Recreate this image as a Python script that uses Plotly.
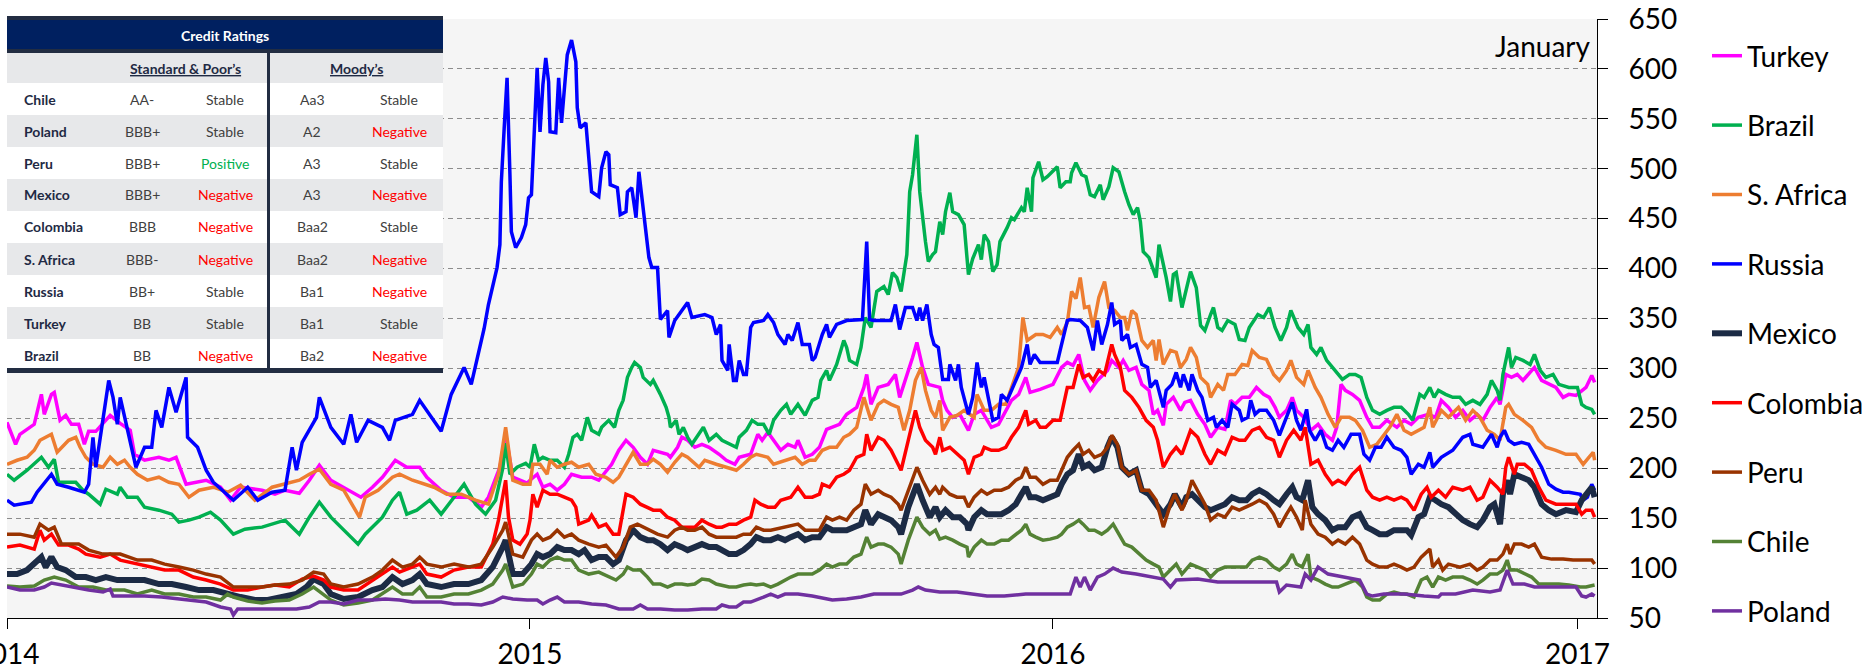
import plotly.graph_objects as go
import pandas as pd

START = "2014-01-01"   # day 0 of every series below (days since this date, value in bp)

TURKEY = [(0,246),(6,224),(9,234),(19,244),(24,274),(26,254),(31,274),(33,276),(37,248),(41,253),(45,244),(50,244),(54,224),(57,237),(62,237),(72,253),(79,245),(86,238),(89,214),(96,208),(106,211),(113,208),(118,211),(125,184),(139,188),(149,181),(156,168),(163,181),(178,178),(187,174),(194,178),(204,175),(211,188),(218,203),(226,188),(235,181),(247,171),(255,181),(262,191),(271,208),(279,201),(288,201),(293,191),(303,178),(312,171),(322,171),(331,161),(336,171),(344,201),(348,234),(353,191),(363,185),(365,188),(370,194),(374,181),(379,184),(384,178),(389,184),(394,194),(401,191),(408,191),(413,188),(420,201),(422,204),(427,218),(432,228),(437,221),(442,211),(447,204),(451,218),(461,214),(463,211),(468,221),(471,231),(475,228),(480,221),(485,224),(490,221),(497,214),(502,208),(508,204),(511,211),(519,214),(524,234),(527,228),(531,236),(535,228),(540,218),(545,224),(550,221),(552,228),(557,211),(562,214),(567,221),(572,239),(576,241),(581,244),(586,254),(593,261),(598,281),(600,294),(603,264),(608,281),(615,284),(620,294),(623,271),(627,288),(632,311),(635,326),(639,301),(643,284),(651,281),(653,268),(656,258),(660,251),(665,254),(671,238),(675,254),(680,258),(687,241),(692,244),(701,268),(706,274),(711,291),(714,276),(721,279),(730,284),(736,301),(740,306),(744,303),(748,314),(752,288),(756,278),(761,288),(768,298),(771,308),(776,301),(779,308),(783,298),(788,301),(792,284),(797,278),(800,254),(803,258),(807,243),(809,264),(814,271),(819,258),(822,266),(826,268),(831,254),(836,244),(840,231),(845,241),(850,239),(854,268),(857,264),(862,271),(867,271),(872,281),(877,274),(881,271),(885,261),(888,251),(893,258),(897,271),(900,258),(905,251),(910,238),(915,244),(920,234),(925,228),(928,241),(931,284),(934,278),(939,274),(944,268),(949,251),(953,241),(958,241),(963,248),(970,241),(975,248),(980,244),(985,251),(992,254),(997,251),(1001,268),(1006,261),(1011,251),(1016,258),(1021,248),(1026,254),(1030,248),(1035,261),(1040,271),(1042,264),(1046,294),(1050,291),(1054,294),(1058,288),(1062,294),(1066,301),(1071,288),(1076,284),(1081,281),(1086,271),(1090,274),(1095,273),(1100,278),(1102,281),(1106,293),(1108,286)]

BRAZIL = [(0,194),(5,188),(14,198),(24,211),(29,201),(33,209),(36,186),(48,186),(53,178),(57,174),(65,164),(69,179),(77,174),(79,181),(84,171),(91,171),(96,161),(106,158),(115,154),(120,146),(127,148),(134,151),(142,156),(149,148),(158,134),(166,139),(178,141),(185,144),(194,148),(199,141),(204,134),(211,151),(218,166),(226,151),(233,141),(245,124),(250,134),(255,141),(262,151),(269,168),(274,176),(279,154),(286,158),(295,168),(303,154),(312,171),(319,184),(327,164),(334,154),(341,168),(346,200),(348,225),(351,194),(356,201),(362,205),(365,201),(368,224),(371,208),(374,211),(379,208),(384,208),(389,201),(392,214),(395,231),(398,234),(401,228),(405,251),(408,238),(413,234),(415,241),(420,248),(424,241),(427,258),(430,268),(433,291),(436,301),(438,306),(442,301),(444,291),(449,284),(451,288),(456,274),(460,261),(462,251),(463,241),(467,248),(469,234),(472,241),(475,231),(478,224),(483,234),(486,241),(490,228),(495,234),(499,228),(504,224),(509,221),(511,231),(516,238),(520,248),(524,244),(528,244),(532,234),(535,248),(540,258),(544,264),(547,254),(552,264),(557,253),(562,268),(566,271),(568,288),(572,298),(574,288),(579,304),(584,328),(586,321),(588,308),(593,304),(596,321),(599,351),(603,341),(607,377),(612,382),(615,374),(618,396),(621,391),(624,377),(628,414),(630,477),(632,494),(635,534),(637,477),(641,427),(643,407),(646,414),(648,417),(651,447),(653,434),(655,457),(658,476),(660,457),(664,454),(668,444),(671,394),(674,410),(678,424),(680,409),(682,434),(685,427),(688,397),(691,404),(693,427),(698,441),(701,451),(703,449),(708,461),(710,457),(712,481),(715,457),(716,491),(720,507),(723,489),(726,492),(733,502),(735,481),(739,487),(742,487),(743,496),(746,506),(750,494),(753,492),(756,474),(759,472),(763,484),(765,469),(769,482),(772,501),(776,497),(780,477),(783,464),(786,454),(789,461),(791,447),(793,417),(797,411),(802,391),(804,424),(809,391),(812,367),(814,394),(816,396),(820,361),(826,397),(830,381),(833,343),(836,338),(840,354),(842,361),(845,341),(848,338),(852,348),(857,344),(860,329),(864,328),(867,341),(870,348),(873,354),(877,351),(881,361),(885,341),(889,328),(893,341),(896,358),(901,341),(905,334),(908,344),(910,321),(914,314),(917,321),(921,308),(925,301),(929,294),(932,289),(937,294),(941,294),(945,291),(949,271),(953,258),(958,254),(963,258),(968,261),(973,261),(978,254),(981,248),(986,274),(989,271),(993,281),(996,271),(999,278),(1004,274),(1009,271),(1014,271),(1018,264),(1023,268),(1028,264),(1033,274),(1036,288),(1040,278),(1042,268),(1044,294),(1048,321),(1050,301),(1053,311),(1058,308),(1063,304),(1066,314),(1070,298),(1074,291),(1079,294),(1083,284),(1090,281),(1096,281),(1099,264),(1102,261),(1106,259),(1108,254)]

S_AFRICA = [(0,204),(7,208),(14,211),(19,218),(23,228),(31,234),(35,216),(38,221),(43,228),(48,231),(51,221),(55,211),(60,204),(67,201),(72,211),(77,204),(82,208),(86,201),(91,194),(98,188),(106,191),(113,186),(120,184),(127,171),(134,178),(144,181),(154,176),(163,183),(173,168),(185,181),(194,184),(204,188),(211,194),(218,199),(226,184),(235,178),(246,151),(250,171),(259,178),(269,191),(274,194),(283,188),(298,181),(307,174),(317,174),(327,168),(336,164),(343,194),(348,241),(353,188),(360,184),(365,184),(367,204),(372,204),(377,194),(379,208),(384,201),(389,204),(394,206),(399,201),(406,204),(411,194),(418,191),(423,186),(427,191),(432,204),(437,216),(442,204),(447,204),(451,209),(456,204),(461,196),(466,206),(471,214),(475,211),(483,201),(487,208),(495,204),(502,201),(509,198),(514,204),(519,211),(523,214),(531,211),(535,204),(543,208),(550,211),(555,204),(560,208),(564,208),(569,218),(574,221),(579,221),(584,231),(588,234),(593,241),(598,271),(603,248),(608,264),(612,268),(617,264),(622,261),(626,238),(630,258),(634,288),(638,301),(641,278),(645,258),(648,251),(651,268),(653,238),(658,251),(663,253),(668,258),(675,251),(677,274),(682,258),(687,258),(692,264),(697,264),(701,281),(706,301),(709,351),(712,328),(715,331),(718,334),(723,334),(728,331),(733,341),(736,334),(740,346),(743,377),(746,370),(749,391),(752,361),(755,362),(758,341),(762,371),(766,387),(769,361),(773,358),(777,351),(780,351),(782,338),(785,358),(788,354),(792,328),(796,321),(800,328),(802,308),(804,329),(807,304),(812,318),(816,316),(819,301),(823,309),(826,321),(830,311),(833,291),(838,284),(840,271),(845,284),(849,278),(852,294),(857,294),(862,304),(866,303),(869,318),(874,311),(879,309),(884,294),(888,288),(893,298),(896,308),(900,291),(905,284),(908,298),(913,281),(917,271),(922,254),(927,241),(931,251),(937,251),(941,248),(946,238),(951,221),(956,224),(961,234),(965,241),(970,254),(975,238),(980,234),(985,238),(989,241),(993,261),(995,241),(1001,258),(1006,251),(1013,261),(1018,248),(1023,258),(1028,251),(1033,238),(1038,234),(1042,228),(1046,261),(1048,264),(1052,254),(1058,248),(1064,241),(1069,228),(1074,221),(1081,218),(1088,214),(1095,214),(1100,204),(1104,211),(1107,216),(1108,208)]

RUSSIA = [(0,168),(5,163),(17,166),(21,176),(31,194),(35,184),(43,181),(54,176),(57,184),(60,231),(62,201),(65,231),(71,288),(74,271),(77,244),(79,271),(86,228),(90,201),(96,221),(101,221),(104,258),(108,241),(113,281),(118,256),(125,291),(126,231),(133,221),(139,198),(144,186),(158,168),(168,181),(175,168),(185,176),(194,178),(199,221),(202,198),(206,226),(216,251),(218,271),(226,241),(235,224),(240,254),(244,226),(252,248),(262,241),(267,228),(271,248),(283,254),(288,268),(298,248),(303,237),(310,274),(319,301),(324,284),(331,328),(333,340),(336,364),(342,401),(344,424),(345,487),(347,541),(349,591),(351,494),(352,437),(355,421),(359,431),(362,444),(364,471),(366,474),(368,537),(370,601),(372,537),(374,584),(376,611),(378,587),(379,537),(383,536),(385,591),(387,546),(391,614),(394,629),(397,607),(398,561),(400,541),(404,546),(408,477),(413,472),(415,501),(418,517),(420,514),(421,484),(426,481),(428,454),(432,457),(433,477),(436,481),(439,451),(441,497),(444,457),(448,411),(450,401),(454,401),(456,349),(461,358),(462,331),(466,348),(471,358),(475,366),(478,351),(487,354),(492,351),(495,334),(498,344),(499,308),(503,298),(504,324),(507,288),(509,288),(511,308),(514,294),(516,294),(519,341),(521,346),(528,348),(531,354),(535,346),(538,334),(543,324),(545,334),(548,328),(552,346),(555,324),(560,324),(562,308),(564,311),(569,334),(572,344),(574,331),(579,344),(586,348),(597,349),(600,427),(602,349),(605,348),(617,348),(620,364),(623,339),(627,361),(632,361),(635,348),(637,361),(639,348),(642,364),(645,334),(647,324),(650,321),(653,289),(657,289),(658,304),(662,288),(664,304),(666,281),(671,254),(674,271),(677,306),(680,281),(682,291),(685,268),(688,248),(692,251),(694,274),(698,268),(701,278),(706,294),(708,301),(712,324),(714,304),(717,314),(721,306),(725,306),(733,306),(735,318),(740,348),(742,349),(749,348),(754,341),(758,318),(761,348),(764,324),(768,344),(771,366),(773,344),(777,348),(778,328),(782,334),(784,321),(788,324),(792,304),(796,301),(798,281),(802,288),(807,261),(809,278),(813,284),(816,296),(819,281),(821,294),(825,278),(827,294),(831,278),(834,271),(838,248),(842,251),(844,241),(848,248),(852,241),(855,264),(860,258),(862,248),(866,251),(868,268),(871,254),(874,258),(879,258),(884,248),(888,233),(893,251),(897,266),(900,248),(903,238),(907,259),(909,238),(913,228),(917,238),(921,221),(925,218),(929,228),(933,221),(938,234),(944,234),(947,214),(951,208),(955,221),(959,221),(963,231),(968,221),(973,218),(977,211),(980,194),(985,204),(989,201),(993,216),(995,201),(1001,211),(1009,218),(1016,231),(1021,234),(1023,224),(1030,221),(1036,234),(1040,221),(1042,231),(1045,238),(1048,228),(1052,224),(1057,226),(1062,224),(1066,214),(1071,201),(1076,184),(1081,179),(1086,176),(1090,176),(1098,174),(1100,168),(1103,171),(1106,184),(1108,178)]

MEXICO = [(0,94),(7,94),(14,98),(21,108),(24,111),(27,101),(31,111),(35,101),(41,98),(48,91),(55,91),(62,88),(69,91),(77,88),(86,88),(96,88),(106,84),(115,84),(125,81),(134,78),(144,78),(154,74),(163,71),(173,68),(182,68),(192,71),(202,74),(209,81),(214,89),(221,84),(226,74),(235,69),(245,71),(255,78),(262,81),(269,91),(276,84),(283,88),(288,94),(293,84),(303,81),(312,84),(322,84),(331,88),(339,101),(346,121),(348,128),(353,94),(360,94),(366,104),(370,114),(374,111),(379,114),(384,121),(389,118),(394,118),(399,114),(403,118),(408,108),(413,111),(418,111),(423,104),(427,108),(432,128),(437,138),(442,131),(447,128),(451,128),(456,124),(461,118),(466,124),(471,121),(475,118),(480,121),(485,124),(490,121),(495,121),(499,118),(504,114),(509,114),(514,118),(519,124),(523,131),(528,128),(533,128),(538,131),(543,128),(547,131),(552,134),(557,128),(562,131),(567,131),(572,141),(576,138),(581,138),(586,138),(591,141),(596,144),(599,158),(603,144),(608,154),(612,151),(617,148),(622,141),(624,134),(629,161),(635,184),(639,168),(644,151),(648,161),(651,151),(655,158),(660,151),(665,151),(670,144),(671,138),(675,151),(680,158),(684,154),(689,154),(694,154),(699,158),(704,164),(708,174),(711,181),(714,171),(718,171),(723,168),(728,171),(733,174),(736,184),(740,194),(744,198),(748,214),(751,201),(755,204),(759,198),(764,201),(768,221),(771,231),(775,221),(778,201),(783,194),(788,198),(792,178),(797,174),(802,164),(807,154),(812,164),(815,174),(820,161),(823,171),(827,174),(831,168),(836,161),(840,158),(845,161),(850,164),(855,171),(860,168),(865,168),(869,174),(874,178),(879,174),(884,168),(888,164),(893,174),(897,181),(900,171),(904,168),(908,188),(911,161),(915,154),(920,148),(925,138),(929,141),(934,141),(939,151),(944,154),(949,141),(953,138),(958,134),(963,134),(968,138),(973,138),(977,138),(980,133),(985,151),(989,154),(993,171),(997,168),(1001,164),(1006,161),(1011,154),(1016,148),(1021,144),(1026,141),(1030,148),(1035,161),(1038,164),(1042,144),(1044,174),(1047,188),(1049,174),(1052,194),(1057,191),(1062,188),(1066,181),(1071,164),(1076,158),(1081,154),(1088,158),(1095,156),(1099,168),(1102,174),(1106,181),(1108,171)]

COLOMBIA = [(0,121),(9,123),(19,119),(23,138),(26,128),(31,134),(36,123),(43,123),(50,119),(55,114),(65,111),(72,114),(79,108),(91,104),(101,101),(110,98),(120,98),(130,91),(139,88),(149,84),(158,78),(168,78),(178,81),(187,83),(197,81),(206,89),(214,92),(221,88),(226,81),(235,78),(245,78),(255,88),(262,94),(269,101),(274,96),(283,101),(288,104),(293,94),(303,91),(312,98),(322,101),(331,101),(339,124),(343,148),(348,188),(350,151),(353,128),(358,124),(363,134),(365,148),(367,174),(370,161),(374,178),(379,174),(384,174),(389,171),(394,168),(397,161),(399,144),(406,148),(408,153),(413,141),(418,144),(423,134),(427,134),(432,174),(437,171),(442,164),(447,161),(451,158),(456,158),(461,151),(466,148),(471,141),(480,141),(485,148),(490,144),(495,141),(499,141),(504,144),(509,144),(514,148),(519,151),(522,168),(526,164),(531,161),(536,161),(540,168),(547,171),(552,181),(557,171),(562,171),(567,174),(569,184),(574,181),(579,191),(584,194),(588,198),(593,211),(598,214),(600,234),(603,218),(608,231),(612,228),(617,218),(622,204),(624,198),(629,228),(634,258),(637,241),(641,228),(646,221),(648,214),(651,231),(653,218),(658,221),(663,214),(668,208),(671,194),(675,211),(680,214),(682,221),(687,218),(692,218),(697,221),(701,231),(706,241),(711,258),(713,244),(718,248),(721,241),(725,241),(730,248),(735,248),(740,281),(744,281),(748,304),(751,291),(755,294),(758,288),(762,298),(766,294),(771,324),(773,314),(777,301),(780,278),(785,271),(790,261),(795,248),(800,241),(803,228),(807,201),(812,214),(816,221),(820,214),(826,238),(831,231),(836,214),(840,204),(845,218),(850,214),(855,231),(860,228),(864,228),(869,238),(874,241),(879,231),(884,228),(888,211),(893,228),(898,238),(903,228),(906,241),(910,204),(915,208),(920,194),(925,184),(929,188),(934,184),(939,194),(944,201),(949,178),(953,171),(958,168),(963,171),(968,168),(973,171),(977,168),(982,158),(987,174),(991,181),(994,171),(999,178),(1004,171),(1009,181),(1016,178),(1021,181),(1026,168),(1030,171),(1035,188),(1040,181),(1044,174),(1046,201),(1048,211),(1052,194),(1054,204),(1059,204),(1064,198),(1069,181),(1074,168),(1081,164),(1088,164),(1095,164),(1099,154),(1102,158),(1106,158),(1108,151)]

PERU = [(0,134),(9,134),(19,131),(23,144),(29,138),(33,141),(38,124),(50,124),(57,118),(67,114),(79,114),(91,108),(101,108),(110,104),(120,101),(130,98),(139,94),(149,91),(158,81),(168,81),(178,81),(187,83),(197,84),(206,88),(214,96),(221,94),(226,84),(235,81),(245,84),(255,91),(262,98),(269,108),(276,101),(283,104),(288,111),(293,104),(303,101),(312,104),(322,101),(331,104),(339,121),(346,138),(348,146),(353,114),(360,111),(366,128),(370,134),(374,128),(379,131),(384,138),(389,131),(394,134),(399,128),(406,124),(413,121),(418,123),(425,111),(430,121),(435,141),(440,144),(444,141),(449,138),(454,134),(461,131),(466,138),(471,141),(475,138),(480,138),(485,141),(490,134),(495,131),(504,131),(509,131),(514,134),(519,134),(523,141),(528,138),(533,138),(543,141),(552,144),(557,138),(562,138),(567,138),(572,151),(576,148),(581,151),(586,148),(591,158),(596,164),(599,184),(603,174),(608,178),(612,174),(617,171),(622,164),(624,158),(629,178),(635,201),(639,188),(644,174),(648,181),(651,174),(653,181),(658,174),(663,171),(668,171),(671,161),(675,171),(680,178),(684,174),(689,178),(694,178),(699,181),(704,188),(708,191),(711,201),(714,191),(718,191),(723,184),(728,188),(733,188),(736,198),(740,211),(744,218),(748,224),(751,214),(755,218),(759,211),(764,214),(768,221),(771,233),(775,224),(778,201),(783,194),(788,198),(792,178),(797,178),(802,168),(807,141),(812,164),(815,174),(820,158),(823,168),(827,188),(831,178),(836,164),(840,148),(845,154),(850,151),(855,161),(860,158),(865,161),(869,164),(874,168),(879,164),(884,154),(888,141),(893,154),(896,161),(900,151),(904,138),(906,168),(910,144),(915,134),(920,131),(925,124),(929,128),(934,124),(939,131),(944,124),(949,108),(953,104),(958,101),(963,101),(968,104),(973,101),(977,98),(982,101),(987,111),(993,119),(995,101),(999,108),(1002,98),(1006,104),(1014,101),(1021,104),(1026,98),(1030,101),(1035,108),(1040,108),(1044,114),(1047,124),(1049,114),(1052,124),(1057,124),(1062,121),(1066,124),(1071,111),(1078,109),(1086,109),(1093,108),(1100,108),(1106,108),(1108,104)]

CHILE = [(0,82),(9,81),(19,82),(26,88),(33,91),(41,88),(50,81),(60,81),(69,78),(82,78),(91,74),(101,78),(110,74),(120,74),(130,71),(139,71),(149,68),(154,74),(158,71),(168,67),(178,65),(187,67),(197,68),(206,74),(214,81),(221,74),(226,68),(235,63),(245,65),(255,68),(262,74),(269,81),(276,74),(283,74),(288,81),(293,71),(303,71),(312,74),(322,74),(331,78),(339,84),(346,98),(348,104),(353,81),(360,84),(366,94),(370,104),(374,101),(379,108),(384,111),(389,108),(394,108),(399,98),(406,94),(413,96),(420,91),(425,88),(430,94),(433,101),(437,98),(442,98),(447,91),(451,84),(456,84),(461,81),(466,84),(471,84),(475,83),(480,84),(485,89),(490,88),(495,84),(499,83),(504,81),(509,81),(514,83),(519,84),(523,83),(528,84),(533,81),(538,84),(543,88),(547,91),(552,94),(557,94),(562,94),(567,98),(572,104),(576,101),(581,104),(586,104),(591,111),(596,114),(600,131),(603,121),(608,124),(612,124),(617,121),(622,114),(624,104),(629,128),(635,151),(639,141),(644,134),(648,138),(651,129),(655,131),(660,128),(665,124),(670,121),(671,111),(675,121),(680,128),(684,124),(689,124),(694,128),(699,128),(704,134),(708,138),(711,144),(714,134),(718,131),(723,128),(728,129),(733,131),(736,134),(740,141),(744,144),(748,148),(751,144),(755,138),(759,138),(764,134),(768,138),(772,144),(776,134),(780,124),(785,121),(790,114),(795,108),(800,104),(804,101),(807,91),(812,98),(816,104),(820,94),(826,104),(831,101),(836,98),(840,91),(845,98),(850,101),(855,101),(860,101),(865,101),(869,108),(874,111),(879,108),(884,101),(888,98),(893,104),(897,114),(900,104),(904,101),(908,114),(910,91),(915,88),(920,84),(925,81),(929,81),(934,84),(941,88),(946,81),(949,71),(953,68),(958,68),(963,74),(968,76),(973,74),(977,74),(982,71),(987,88),(991,91),(995,81),(999,91),(1004,88),(1009,91),(1016,91),(1021,88),(1026,84),(1030,88),(1035,94),(1040,94),(1044,98),(1047,108),(1049,98),(1054,98),(1059,94),(1064,91),(1069,84),(1076,84),(1083,84),(1090,83),(1098,81),(1102,81),(1108,83)]

POLAND = [(0,81),(9,78),(19,78),(26,81),(31,85),(38,83),(48,81),(57,78),(67,76),(72,79),(74,72),(84,72),(96,72),(108,71),(120,69),(130,68),(139,66),(149,61),(156,59),(158,53),(161,59),(173,59),(187,59),(202,59),(211,61),(218,66),(226,66),(235,64),(245,68),(255,68),(264,69),(274,68),(283,66),(293,66),(303,66),(312,64),(322,64),(331,63),(339,66),(346,71),(353,69),(363,68),(370,68),(374,64),(379,68),(384,71),(389,66),(399,66),(408,64),(418,63),(427,59),(437,59),(442,63),(447,59),(456,59),(466,58),(475,58),(485,59),(495,59),(499,63),(504,61),(509,61),(514,66),(519,66),(523,68),(528,71),(533,74),(538,71),(543,74),(552,74),(562,72),(572,69),(576,68),(586,69),(596,71),(605,74),(615,74),(624,74),(632,78),(636,81),(641,78),(651,76),(663,76),(672,74),(684,72),(696,72),(711,74),(725,74),(735,74),(742,74),(746,91),(749,81),(752,91),(756,78),(761,91),(766,94),(772,100),(778,96),(788,94),(797,92),(807,89),(812,81),(816,88),(831,89),(845,86),(860,86),(874,86),(886,86),(888,76),(893,83),(903,81),(906,94),(910,88),(915,101),(922,94),(932,91),(944,88),(949,74),(953,72),(961,74),(975,74),(989,72),(999,71),(1001,74),(1011,74),(1023,78),(1035,76),(1042,78),(1047,98),(1051,84),(1059,84),(1066,81),(1076,81),(1086,81),(1095,81),(1099,72),(1102,71),(1106,74),(1108,72)]

SERIES_NAMES = ["Turkey", "Brazil", "S. Africa", "Russia", "Mexico", "Colombia", "Peru", "Chile", "Poland"]
SERIES_DATA = [TURKEY, BRAZIL, S_AFRICA, RUSSIA, MEXICO, COLOMBIA, PERU, CHILE, POLAND]
SERIES_COLORS = ["#ff00ff", "#00b050", "#ed7d31", "#0000ff", "#1c2b45", "#ff0000", "#993300", "#548235", "#7030a0"]
SERIES_WIDTHS = [3.5, 3.5, 3.5, 3.5, 6, 3.5, 3.5, 3.5, 3.5]

YEAR_TICKS = ["2014-01-01", "2015-01-01", "2016-01-01", "2017-01-01"]
YEAR_LABELS = ["2014", "2015", "2016", "2017"]

# Credit ratings table
TBL_COUNTRY = ["Chile", "Poland", "Peru", "Mexico", "Colombia", "S. Africa", "Russia", "Turkey", "Brazil"]
SP_RATING = ["AA-", "BBB+", "BBB+", "BBB+", "BBB", "BBB-", "BB+", "BB", "BB"]
SP_OUTLOOK = ["Stable", "Stable", "Positive", "Negative", "Negative", "Negative", "Stable", "Stable", "Negative"]
MOODY_RATING = ["Aa3", "A2", "A3", "A3", "Baa2", "Baa2", "Ba1", "Ba1", "Ba2"]
MOODY_OUTLOOK = ["Stable", "Negative", "Stable", "Negative", "Stable", "Negative", "Negative", "Stable", "Negative"]
OUTLOOK_COLOR = {"Stable": "#404040", "Negative": "#ff0000", "Positive": "#00b050"}

# ---------------- figure ----------------
W, H = 1874, 671
ML, MR, MT, MB = 7, 277, 19, 53
PW, PH = W - ML - MR, H - MT - MB
FONT = "Lato, 'Open Sans', sans-serif"
LEG_STEP = 69.4   # vertical distance between legend entries (px)
LEG_SPLIT = 5     # entries shown in the first legend block


def fx(px):
    return (px - ML) / PW


def fy(py):
    return 1 - (py - MT) / PH


fig = go.Figure()
start = pd.Timestamp(START)
for i, (name, data, color, width) in enumerate(zip(SERIES_NAMES, SERIES_DATA, SERIES_COLORS, SERIES_WIDTHS)):
    days = [d for d, _ in data]
    vals = [v for _, v in data]
    x = start + pd.to_timedelta(days, unit="D")
    fig.add_trace(go.Scatter(x=x, y=vals, mode="lines", name=name, legendgroup=name,
                             legend=("legend" if i < LEG_SPLIT else "legend2"),
                             line=dict(color=color, width=width), hoverinfo="skip"))

shapes = []
annos = []
NAVY_DARK = "#222d42"
GREY_ROW = "#e7e8ea"
TEXT_DARK = "#1f2a44"
# header
shapes.append(dict(type="rect", xref="paper", yref="paper", x0=fx(7), x1=fx(443), y0=fy(53), y1=fy(16),
                   fillcolor="#002060", line=dict(width=0), layer="above"))
shapes.append(dict(type="rect", xref="paper", yref="paper", x0=fx(7), x1=fx(443), y0=fy(20), y1=fy(16),
                   fillcolor=NAVY_DARK, line=dict(width=0), layer="above"))
shapes.append(dict(type="rect", xref="paper", yref="paper", x0=fx(7), x1=fx(443), y0=fy(53), y1=fy(49),
                   fillcolor=NAVY_DARK, line=dict(width=0), layer="above"))
# sub header
shapes.append(dict(type="rect", xref="paper", yref="paper", x0=fx(7), x1=fx(443), y0=fy(83), y1=fy(53),
                   fillcolor=GREY_ROW, line=dict(width=0), layer="above"))
ROW0, ROWH = 83, 32
n = len(TBL_COUNTRY)
for i in range(n):
    top = ROW0 + i * ROWH
    bot = min(top + ROWH, 368)
    shapes.append(dict(type="rect", xref="paper", yref="paper", x0=fx(7), x1=fx(443), y0=fy(bot), y1=fy(top),
                       fillcolor=(GREY_ROW if i % 2 else "#ffffff"), line=dict(width=0), layer="above"))
    yc = fy(top + 16)
    annos.append(dict(text="<b>%s</b>" % TBL_COUNTRY[i], x=fx(22), y=yc, xanchor="left",
                      font=dict(color=TEXT_DARK, size=14)))
    annos.append(dict(text=SP_RATING[i], x=fx(142), y=yc, xanchor="center", font=dict(color="#404040", size=14)))
    annos.append(dict(text=SP_OUTLOOK[i], x=fx(225), y=yc, xanchor="center",
                      font=dict(color=OUTLOOK_COLOR[SP_OUTLOOK[i]], size=14)))
    annos.append(dict(text=MOODY_RATING[i], x=fx(312), y=yc, xanchor="center", font=dict(color="#404040", size=14)))
    annos.append(dict(text=MOODY_OUTLOOK[i], x=fx(399), y=yc, xanchor="center",
                      font=dict(color=OUTLOOK_COLOR[MOODY_OUTLOOK[i]], size=14)))
# bottom border and divider
shapes.append(dict(type="rect", xref="paper", yref="paper", x0=fx(7), x1=fx(443), y0=fy(373), y1=fy(368),
                   fillcolor=NAVY_DARK, line=dict(width=0), layer="above"))
shapes.append(dict(type="rect", xref="paper", yref="paper", x0=fx(267), x1=fx(270), y0=fy(368), y1=fy(53),
                   fillcolor=NAVY_DARK, line=dict(width=0), layer="above"))

annos.append(dict(text="<b>Credit Ratings</b>", x=fx(225), y=fy(35), xanchor="center",
                  font=dict(color="white", size=14)))
annos.append(dict(text="<b>Standard &amp; Poor’s</b>", x=fx(185), y=fy(68), xanchor="center",
                  font=dict(color=TEXT_DARK, size=14, lineposition="under")))
annos.append(dict(text="<b>Moody’s</b>", x=fx(356), y=fy(68), xanchor="center",
                  font=dict(color=TEXT_DARK, size=14, lineposition="under")))
annos.append(dict(text="January", x=fx(1593), y=fy(46), xanchor="right",
                  font=dict(color="black", size=28)))

for a in annos:
    a.update(xref="paper", yref="paper", showarrow=False, yanchor="middle")
    a["font"].setdefault("family", FONT)

legend_style = dict(xanchor="left", yanchor="top", traceorder="grouped", tracegroupgap=30,
                    font=dict(family=FONT, size=28, color="black"),
                    bgcolor="rgba(0,0,0,0)", borderwidth=0)

fig.update_layout(
    width=W, height=H, autosize=False,
    margin=dict(l=ML, r=MR, t=MT, b=MB, pad=0, autoexpand=False),
    paper_bgcolor="white", plot_bgcolor="#f5f5f5",
    font=dict(family=FONT, size=28, color="black"),
    showlegend=True,
    legend=dict(x=fx(1707), y=fy(31), **legend_style),
    legend2=dict(x=fx(1707), y=fy(31 + LEG_SPLIT * LEG_STEP), **legend_style),
    xaxis=dict(type="date", range=[START, "2017-01-14 16:00"], tickmode="array",
               tickvals=YEAR_TICKS, ticktext=YEAR_LABELS, ticks="outside", ticklen=10,
               tickcolor="black", tickwidth=1, showline=True, linecolor="black", linewidth=1,
               showgrid=False, zeroline=False, ticklabelstandoff=1, automargin=False,
               ticklabeloverflow="allow"),
    yaxis=dict(side="right", range=[50, 650], tick0=50, dtick=50, ticks="outside", ticklen=10,
               tickcolor="black", tickwidth=1, showline=True, linecolor="black", linewidth=1,
               showgrid=True, gridcolor="#8c8c8c", griddash="5px,4px", gridwidth=1,
               zeroline=False, ticklabelstandoff=15, automargin=False),
    shapes=shapes,
    annotations=annos,
    hovermode=False,
)

fig.write_html(
    "out.html",
    config={"displayModeBar": False},
    post_script="document.body.style.margin='0';document.body.style.overflow='hidden';"
                "document.documentElement.style.overflow='hidden';",
)
